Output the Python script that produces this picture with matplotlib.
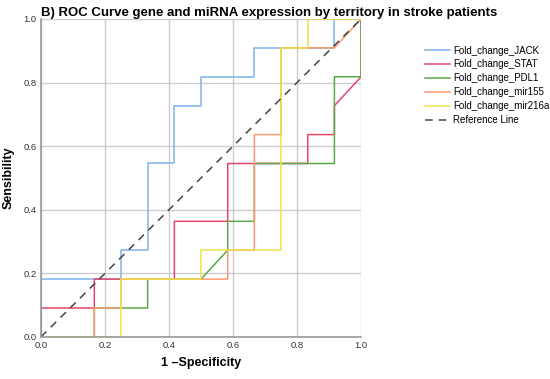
import matplotlib.pyplot as plt

plt.rcParams["font.family"] = ["Liberation Sans", "DejaVu Sans"]

# ROC step points (1 - specificity, sensitivity); steps of 1/12 and 1/11
jack_x = [0, 0, 3/12, 3/12, 4/12, 4/12, 5/12, 5/12, 6/12, 6/12, 8/12, 8/12, 11/12, 11/12, 1]
jack_y = [0, 2/11, 2/11, 3/11, 3/11, 6/11, 6/11, 8/11, 8/11, 9/11, 9/11, 10/11, 10/11, 1, 1]

stat_x = [0, 0, 2/12, 2/12, 5/12, 5/12, 7/12, 7/12, 10/12, 10/12, 11/12, 11/12, 1, 1]
stat_y = [0, 1/11, 1/11, 2/11, 2/11, 4/11, 4/11, 6/11, 6/11, 7/11, 7/11, 8/11, 9/11, 1]

pdl1_x = [0, 2/12, 2/12, 4/12, 4/12, 6/12, 7/12, 7/12, 8/12, 8/12, 11/12, 11/12, 1, 1]
pdl1_y = [0, 0, 1/11, 1/11, 2/11, 2/11, 3/11, 4/11, 4/11, 6/11, 6/11, 9/11, 9/11, 1]

mir155_x = [0, 2/12, 2/12, 3/12, 3/12, 7/12, 7/12, 8/12, 8/12, 9/12, 9/12, 11/12, 1]
mir155_y = [0, 0, 1/11, 1/11, 2/11, 2/11, 3/11, 3/11, 7/11, 7/11, 10/11, 10/11, 1]

mir216a_x = [0, 3/12, 3/12, 6/12, 6/12, 9/12, 9/12, 10/12, 10/12, 1]
mir216a_y = [0, 0, 2/11, 2/11, 3/11, 3/11, 10/11, 10/11, 1, 1]

series = [
    ("Fold_change_JACK", jack_x, jack_y, "#7fb3ee"),
    ("Fold_change_STAT", stat_x, stat_y, "#e5476c"),
    ("Fold_change_PDL1", pdl1_x, pdl1_y, "#5aa84a"),
    ("Fold_change_mir155", mir155_x, mir155_y, "#f89a70"),
    ("Fold_change_mir216a", mir216a_x, mir216a_y, "#f0e04a"),
]

fig = plt.figure(figsize=(5.5, 3.79), dpi=100)
ax = fig.add_axes([0.0745, 0.111, 0.582, 0.839])

for name, xs, ys, col in series:
    ax.plot(xs, ys, color=col, lw=1.1, label=name)
ax.plot([0, 1], [0, 1], color="#444444", lw=1.1, dashes=(5, 4), label="Reference Line")

ax.set_xlim(0, 1)
ax.set_ylim(0, 1)
ticks = [0.0, 0.2, 0.4, 0.6, 0.8, 1.0]
ax.set_xticks(ticks)
ax.set_yticks(ticks)
ax.set_xticklabels([f"{t:.1f}" for t in ticks])
ax.set_yticklabels([f"{t:.1f}" for t in ticks])
ax.tick_params(labelsize=6.8, colors="#333333", length=0, pad=3)
ax.grid(True, color="#cccccc", lw=1)
ax.set_axisbelow(True)
for s in ["top", "right"]:
    ax.spines[s].set_visible(False)
for s in ["left", "bottom"]:
    ax.spines[s].set_color("#999999")
    ax.spines[s].set_linewidth(1.2)

ax.set_xlabel("1 \u2013Specificity", fontsize=9, fontweight="bold")
ax.set_ylabel("Sensibility", fontsize=9, fontweight="bold")
ax.xaxis.set_label_coords(0.5, -0.082)
ax.yaxis.set_label_coords(-0.1, 0.5)
ax.xaxis.label.set_va("center")
ax.yaxis.label.set_va("center")
fig.text(0.074, 0.967, "B) ROC Curve gene and miRNA expression by territory in stroke patients",
         fontsize=9.5, fontweight="bold", va="center", ha="left")

fig.legend(loc="upper left", bbox_to_anchor=(0.765, 0.89), frameon=False, fontsize=7,
           handlelength=2.6, handletextpad=0.3, labelspacing=0.4, borderaxespad=0)

fig.savefig("out.png", dpi=100)
